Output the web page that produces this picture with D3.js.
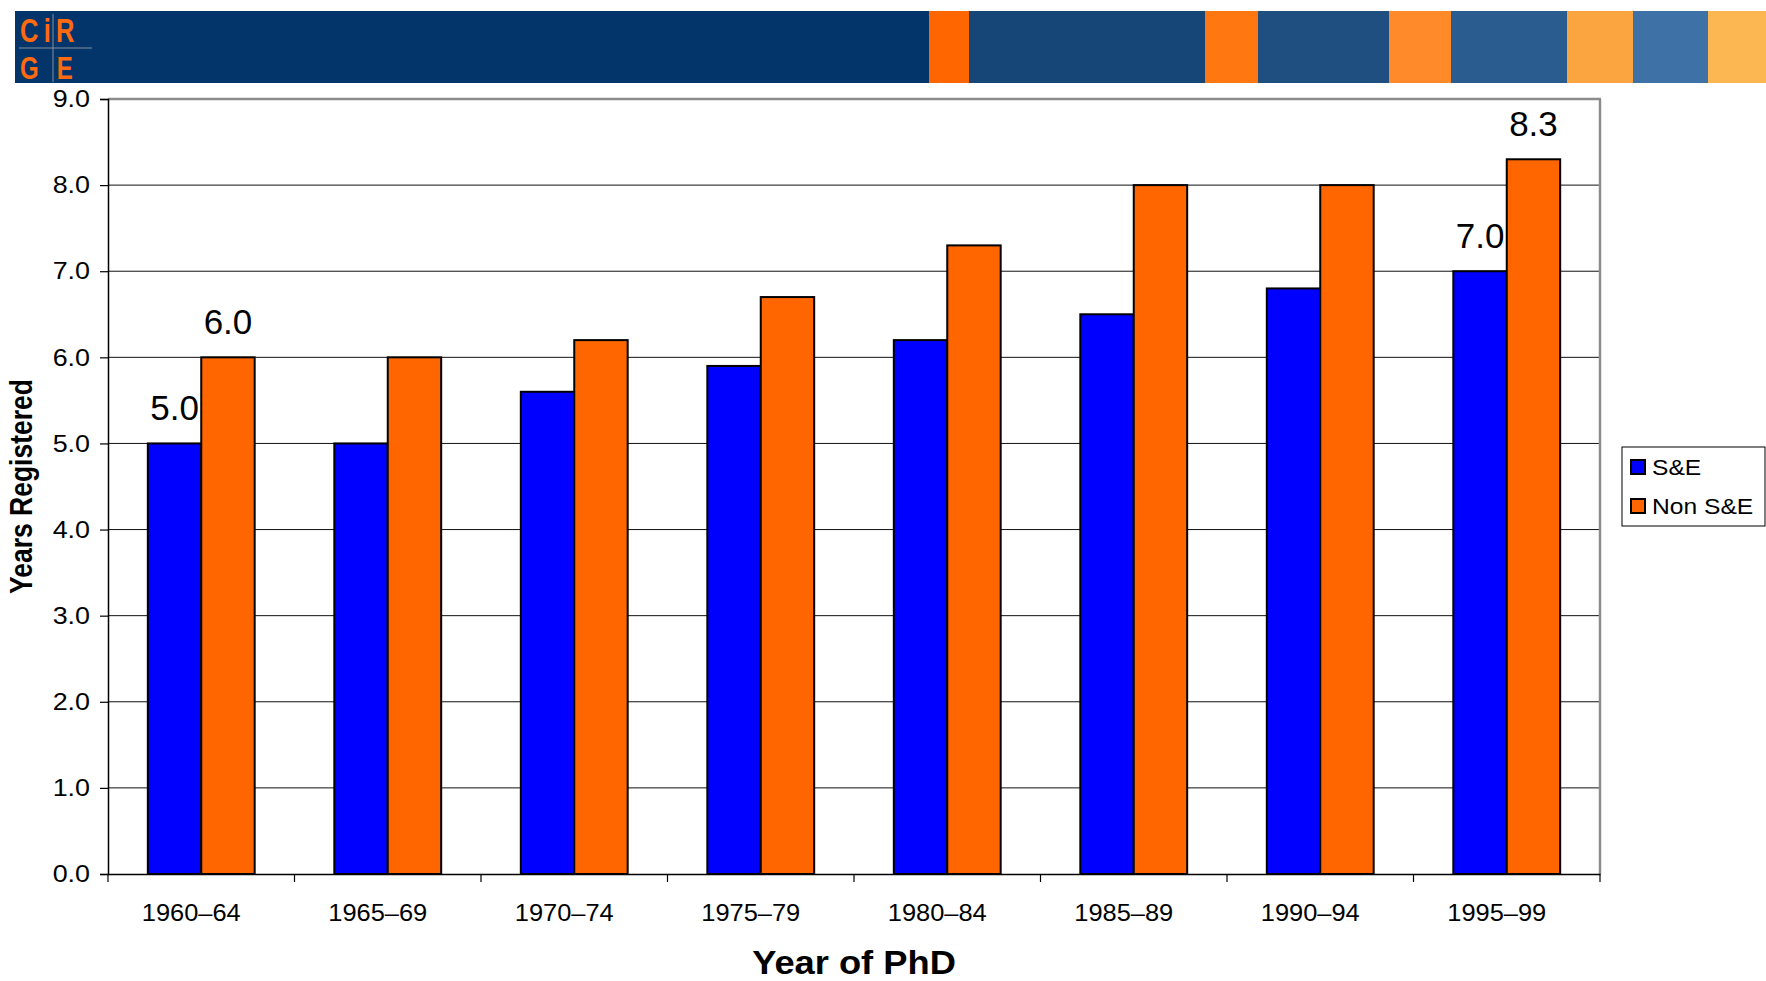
<!DOCTYPE html>
<html>
<head>
<meta charset="utf-8">
<script src="https://cdn.jsdelivr.net/npm/d3@7"></script>
<style>
  html, body { margin: 0; padding: 0; background: #fff; }
  svg { display: block; font-family: "Liberation Sans", Arial, sans-serif; }
</style>
</head>
<body>
<svg id="chart" width="1766" height="981"></svg>
<script>
// ---- data ----
const categories = ["1960–64", "1965–69", "1970–74", "1975–79", "1980–84", "1985–89", "1990–94", "1995–99"];
const seriesNames = ["S&E", "Non S&E"];
const seValues = [5.0, 5.0, 5.6, 5.9, 6.2, 6.5, 6.8, 7.0];
const nonSeValues = [6.0, 6.0, 6.2, 6.7, 7.3, 8.0, 8.0, 8.3];
const labelledCategories = ["1960–64", "1995–99"];
const yTicks = [0, 1, 2, 3, 4, 5, 6, 7, 8, 9];
const seriesColors = ["#0000FF", "#FF6600"];
const bannerStripeColors = ["#03356A", "#FF6600", "#154677", "#FF7711", "#1F4E80", "#FF8A2A", "#2B5C90", "#FBA540", "#3E72A6", "#FDB752"];
const bannerStripeEnds = [929, 969, 1205, 1258, 1389, 1451, 1567, 1633, 1708, 1766];

const svg = d3.select("#chart");
const SX = 1.12; // horizontal stretch of the slide

// ---- banner ----
const banner = svg.append("g");
let prev = 15;
bannerStripeColors.forEach((c, i) => {
  banner.append("rect").attr("x", prev).attr("y", 11)
    .attr("width", bannerStripeEnds[i] - prev).attr("height", 72).attr("fill", c);
  prev = bannerStripeEnds[i];
});
// logo: two rows of letters
svg.append("line").attr("x1", 19).attr("x2", 92).attr("y1", 48).attr("y2", 48).attr("stroke", "#8a8f99").attr("stroke-width", 1.2);
svg.append("line").attr("x1", 53).attr("x2", 53).attr("y1", 14).attr("y2", 82).attr("stroke", "#8a8f99").attr("stroke-width", 1);
const logoRows = [
  {t: "CiR", x: 20, y: 42, s: 34, sx: 0.75, ls: 7},
  {t: "GE", x: 20, y: 78.5, s: 32, sx: 0.75, ls: 24}
];
logoRows.forEach(r => {
  svg.append("text").text(r.t)
    .attr("transform", `translate(${r.x},${r.y}) scale(${r.sx},1)`)
    .attr("font-size", r.s).attr("font-weight", "bold").attr("fill", "#FF6A10")
    .attr("letter-spacing", r.ls);
});

// ---- scales ----
const plotL = 108, plotR = 1600, plotT = 99, plotB = 874;
const y = d3.scaleLinear().domain([0, 9]).range([plotB, plotT]);
const x0 = d3.scaleBand().domain(categories).range([plotL, plotR]).paddingInner(0.427).paddingOuter(0.2135);
const x1 = d3.scaleBand().domain(seriesNames).range([0, x0.bandwidth()]);

// ---- gridlines ----
svg.append("g").selectAll("line").data(yTicks.filter(t => t > 0 && t < 9)).join("line")
  .attr("x1", plotL).attr("x2", plotR)
  .attr("y1", d => y(d)).attr("y2", d => y(d))
  .attr("stroke", "#111").attr("stroke-width", 1);
// plot border top/right (gray)
svg.append("line").attr("x1", plotL).attr("x2", plotR + 1).attr("y1", y(9)).attr("y2", y(9))
  .attr("stroke", "#8c8c8c").attr("stroke-width", 2.5);
svg.append("line").attr("x1", plotR).attr("x2", plotR).attr("y1", y(9)).attr("y2", plotB)
  .attr("stroke", "#8c8c8c").attr("stroke-width", 2.5);

// ---- bars ----
const rows = categories.map((c, i) => ({cat: c, vals: [seValues[i], nonSeValues[i]]}));
const groups = svg.append("g").selectAll("g").data(rows).join("g")
  .attr("transform", d => `translate(${x0(d.cat)},0)`);
groups.selectAll("rect").data(d => d.vals.map((v, j) => ({name: seriesNames[j], v, j, cat: d.cat}))).join("rect")
  .attr("x", d => x1(d.name))
  .attr("y", d => y(d.v))
  .attr("width", x1.bandwidth())
  .attr("height", d => y(0) - y(d.v))
  .attr("fill", d => seriesColors[d.j])
  .attr("stroke", "#000").attr("stroke-width", 2);

// data labels
groups.filter(d => labelledCategories.includes(d.cat))
  .selectAll("text.lbl").data(d => d.vals.map((v, j) => ({name: seriesNames[j], v}))).join("text")
  .attr("class", "lbl")
  .attr("transform", d => `translate(${x1(d.name) + x1.bandwidth() / 2},${y(d.v) - 23})`)
  .attr("text-anchor", "middle").attr("font-size", 35).attr("fill", "#000")
  .text(d => d.v.toFixed(1));

// ---- axes ----
const yAxis = svg.append("g").attr("transform", `translate(${plotL},0)`)
  .call(d3.axisLeft(y).tickValues(yTicks).tickFormat(d3.format(".1f")).tickSize(8).tickPadding(10));
yAxis.select(".domain").attr("stroke", "#000").attr("stroke-width", 1.5);
yAxis.selectAll(".tick line").attr("stroke", "#000").attr("stroke-width", 1.2);
yAxis.selectAll(".tick text").attr("font-size", 24).attr("fill", "#000")
  .attr("font-family", "'Liberation Sans', Arial, sans-serif")
  .attr("transform", `scale(${SX},1)`).attr("x", -18 / SX);

const xAxis = svg.append("g").attr("transform", `translate(0,${plotB})`)
  .call(d3.axisBottom(x0).tickSize(0).tickPadding(30).tickSizeOuter(0));
xAxis.select(".domain").attr("stroke", "#000").attr("stroke-width", 1.5);
xAxis.selectAll(".tick text").attr("font-size", 24).attr("fill", "#000")
  .attr("font-family", "'Liberation Sans', Arial, sans-serif")
  .attr("transform", `translate(-10,0) scale(1.06,1)`).attr("dy", "0.71em");
// category boundary tick marks
const [r0, r1] = x0.range();
const boundaries = d3.range(categories.length + 1).map(i => r0 + i * (r1 - r0) / categories.length);
xAxis.selectAll("line.bt").data(boundaries).join("line").attr("class", "bt")
  .attr("x1", d => d).attr("x2", d => d).attr("y1", 0).attr("y2", 8)
  .attr("stroke", "#000").attr("stroke-width", 1.2);

// axis titles
svg.append("text").text("Year of PhD")
  .attr("transform", `translate(${(plotL + plotR) / 2},${plotB + 100}) scale(1.1,1)`)
  .attr("text-anchor", "middle").attr("font-size", 33).attr("font-weight", "bold").attr("fill", "#000");
svg.append("text").text("Years Registered")
  .attr("transform", `translate(${32},${(plotT + plotB) / 2}) scale(1.18,1) rotate(-90)`)
  .attr("text-anchor", "middle").attr("font-size", 26.5).attr("font-weight", "bold").attr("fill", "#000");

// ---- legend ----
const legend = svg.append("g").attr("transform", "translate(1622,447)");
legend.append("rect").attr("x", 0).attr("y", 0).attr("width", 143).attr("height", 79)
  .attr("fill", "#fff").attr("stroke", "#000").attr("stroke-width", 1);
seriesNames.forEach((n, i) => {
  const gy = 20 + i * 39;
  legend.append("rect").attr("x", 9).attr("y", gy - 7).attr("width", 14).attr("height", 14)
    .attr("fill", seriesColors[i]).attr("stroke", "#000").attr("stroke-width", 2);
  legend.append("text").text(n)
    .attr("transform", `translate(30,${gy + 8}) scale(1.12,1)`)
    .attr("font-size", 22).attr("fill", "#000");
});
</script>
</body>
</html>
